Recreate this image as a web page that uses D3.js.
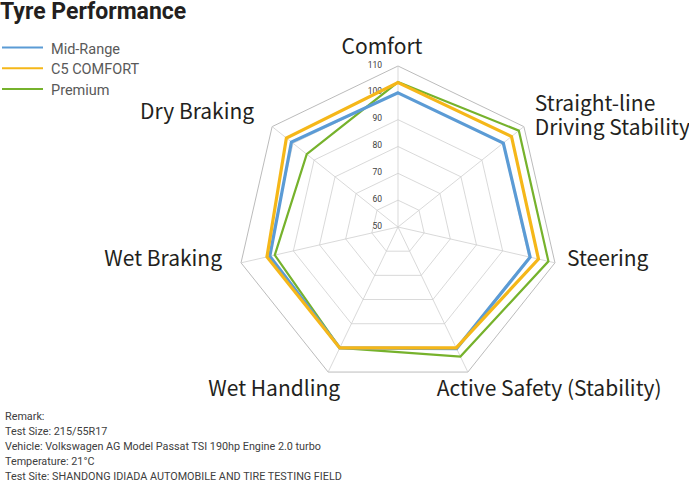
<!DOCTYPE html>
<html>
<head>
<meta charset="utf-8">
<script src="https://cdn.jsdelivr.net/npm/d3@7"></script>
<style>
  body { margin: 0; background: #fff; }
  svg { display: block; }
</style>
</head>
<body>
<div id="chart"></div>
<script>
// radar: tyre test scores
const categories = ["Comfort", "Straight-line Driving Stability", "Steering",
  "Active Safety (Stability)", "Wet Handling", "Wet Braking", "Dry Braking"];
const seriesNames = ["Mid-Range", "C5 COMFORT", "Premium"];
const midRange = [100, 100.2, 100.5, 100.3, 100, 99, 100.8];
const c5Comfort = [103.8, 104.1, 103.7, 100, 100, 100.1, 103.2];
const premium = [104, 107.6, 107.5, 103.6, 100, 97.1, 93.5];
const ticks = [50, 60, 70, 80, 90, 100, 110];
const remarks = [
  "Remark:",
  "Test Size: 215/55R17",
  "Vehicle: Volkswagen AG Model Passat TSI 190hp Engine 2.0 turbo",
  "Temperature: 21°C",
  "Test Site: SHANDONG IDIADA AUTOMOBILE AND TIRE TESTING FIELD"
];

const width = 689, height = 483;
const cx = 398, cy = 227, R = 161;
const colors = ["#5b9bd5", "#f5b719", "#76b22c"];
const strokeW = [3.2, 3.2, 2.2];

const svg = d3.select("#chart").append("svg")
  .attr("width", width).attr("height", height);

const r = d3.scaleLinear().domain([ticks[0], ticks[ticks.length - 1]]).range([0, R]);
const angle = d3.scalePoint().domain(d3.range(categories.length + 1))
  .range([0, 2 * Math.PI]);

const pt = (i, v) => {
  const a = angle(i);
  return [cx + r(v) * Math.sin(a), cy - r(v) * Math.cos(a)];
};

// grid rings
const grid = svg.append("g");
ticks.slice(1).forEach(t => {
  grid.append("path")
    .attr("d", d3.line()(categories.map((c, i) => pt(i, t))) + "Z")
    .attr("fill", "none")
    .attr("stroke", t === 110 ? "#aaa" : "#cfcfcf")
    .attr("stroke-width", 0.8);
});
// spokes
categories.forEach((c, i) => {
  const [x, y] = pt(i, 110);
  grid.append("line")
    .attr("x1", cx).attr("y1", cy).attr("x2", x).attr("y2", y)
    .attr("stroke", "#cfcfcf").attr("stroke-width", 0.8);
});

// tick labels on the Comfort axis
svg.append("g").selectAll("text")
  .data(ticks)
  .join("text")
    .attr("x", cx - 16)
    .attr("y", d => cy - r(d) + 1.5)
    .attr("text-anchor", "end")
    .style("font-family", "Roboto, sans-serif")
    .style("font-size", "8.5px")
    .style("fill", "#404040")
    .text(d => d);

// series
const allSeries = [midRange, c5Comfort, premium];
const drawOrder = [2, 0, 1];
const line = d3.line().curve(d3.curveLinearClosed);
drawOrder.forEach(s => {
  svg.append("path")
    .attr("d", line(allSeries[s].map((v, i) => pt(i, v))))
    .attr("fill", "none")
    .attr("stroke", colors[s])
    .attr("stroke-width", strokeW[s])
    .attr("stroke-linejoin", "miter");
});

// category labels, placed next to outer vertices
const labelLayout = [
  {anchor: "middle", dx: -16, dy: -12.5},
  {anchor: "start", dx: 11, dy: -16},
  {anchor: "start", dx: 12, dy: 3},
  {anchor: "start", dx: -31, dy: 24},
  {anchor: "end", dx: 12, dy: 24},
  {anchor: "end", dx: -19, dy: 3},
  {anchor: "end", dx: -18, dy: -8}
];
const labelLines = ["Comfort", ["Straight-line", "Driving Stability"], "Steering",
  "Active Safety (Stability)", "Wet Handling", "Wet Braking", "Dry Braking"];
categories.forEach((c, i) => {
  const [x, y] = pt(i, 110);
  const L = labelLayout[i];
  const lines = Array.isArray(labelLines[i]) ? labelLines[i] : [labelLines[i]];
  lines.forEach((s, k) => {
    svg.append("text")
      .attr("x", x + L.dx).attr("y", y + L.dy + k * 24)
      .attr("text-anchor", L.anchor)
      .style("font-family", "'Noto Sans CJK SC', 'Noto Sans', sans-serif")
      .style("font-size", "21px")
      .style("fill", "#231f20")
      .text(s);
  });
});

// title
svg.append("text")
  .attr("x", 0).attr("y", 19)
  .style("font-family", "Roboto, sans-serif")
  .style("font-size", "23px")
  .style("font-weight", "bold")
  .style("fill", "#231f20")
  .text("Tyre Performance");

// legend
const legend = svg.append("g");
seriesNames.forEach((n, i) => {
  const y = 47.5 + i * 20.7;
  legend.append("line")
    .attr("x1", 2).attr("x2", 43).attr("y1", y).attr("y2", y)
    .attr("stroke", colors[i]).attr("stroke-width", 2);
  legend.append("text")
    .attr("x", 51).attr("y", y + 6)
    .style("font-family", "Roboto, sans-serif")
    .style("font-size", "14.5px")
    .style("fill", "#595959")
    .text(n);
});

// remarks
svg.append("g").selectAll("text")
  .data(remarks)
  .join("text")
    .attr("x", 5)
    .attr("y", (d, i) => 420 + i * 15.1)
    .style("font-family", "Roboto, sans-serif")
    .style("font-size", "10.8px")
    .style("fill", "#404040")
    .text(d => d);
</script>
</body>
</html>
